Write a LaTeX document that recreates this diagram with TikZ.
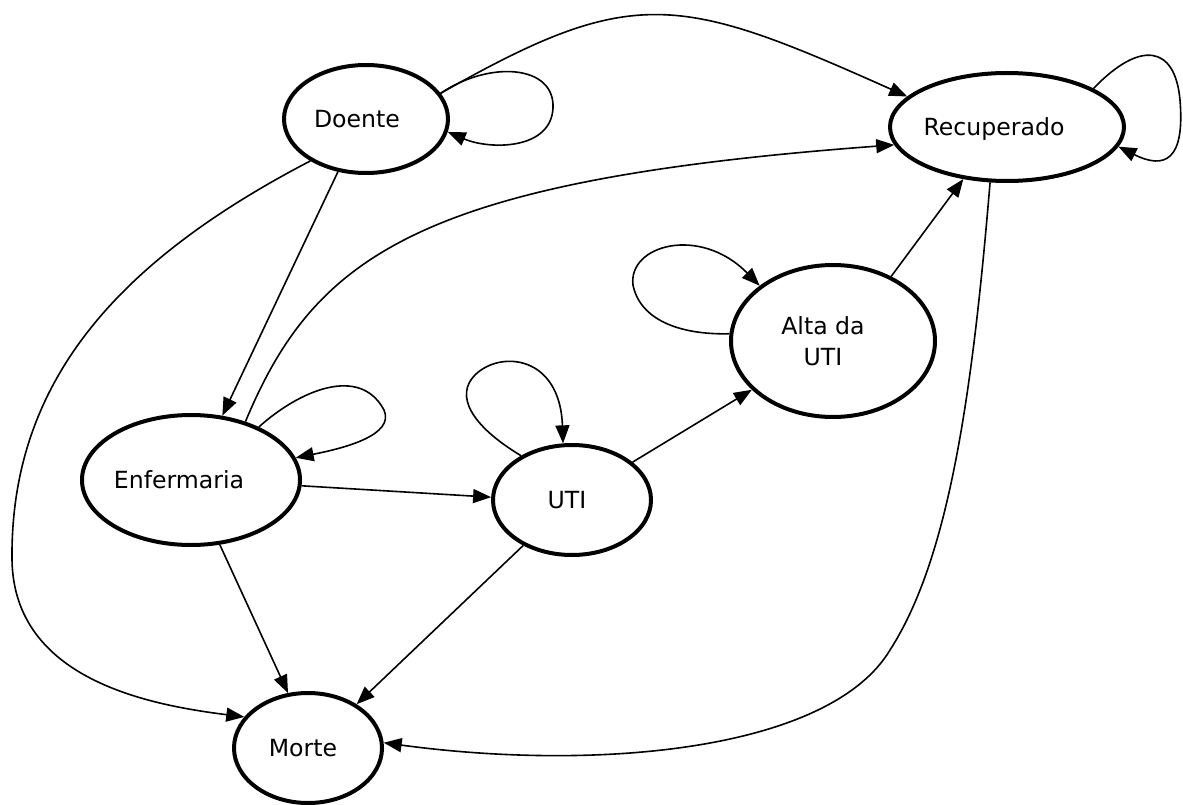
\documentclass[tikz,border=0pt]{standalone}
\usepackage{fontspec}
\setmainfont{DejaVu Sans}
\usetikzlibrary{arrows.meta,shapes.geometric}
\begin{document}
\begin{tikzpicture}[x=1pt,y=-1pt,
  state/.style={ellipse, draw, line width=4pt, inner sep=0pt},
  lbl/.style={font=\fontsize{23.6}{31}\selectfont, inner sep=0pt, align=center},
  one/.style={text height=17.2pt, text depth=0pt},
  edge/.style={line width=1.6pt, -{Triangle[length=18pt,width=14pt]}}]
\useasboundingbox (0,0) rectangle (1183,805);
\fill[white] (0,0) rectangle (1183,805);

\node[state, minimum width=164pt, minimum height=108pt,
  label={[lbl,one,xshift=-9pt]center:Doente}] (doe) at (366,119) {};
\node[state, minimum width=234pt, minimum height=108pt,
  label={[lbl,one,xshift=-13pt]center:Recuperado}] (rec) at (1007,127) {};
\node[state, minimum width=218pt, minimum height=130pt,
  label={[lbl,one,xshift=-12pt]center:Enfermaria}] (enf) at (191,480) {};
\node[state, minimum width=204pt, minimum height=152pt,
  label={[lbl,xshift=-10pt]center:Alta da\\UTI}] (alta) at (833,341) {};
\node[state, minimum width=158pt, minimum height=110pt,
  label={[lbl,one,xshift=-5pt]center:UTI}] (uti) at (572,500) {};
\node[state, minimum width=148pt, minimum height=110pt,
  label={[lbl,one,xshift=-5pt]center:Morte}] (mor) at (308,748) {};

% Doente
\draw[edge] (doe.19) .. controls (633,-16) and (678,-6) .. (rec.163);
\draw[edge] (doe.19) .. controls (490,60) and (555,65) .. (553,108)
  .. controls (551,150) and (490,150) .. (doe.-9);
\draw[edge] (doe.242) -- (enf.64);
\draw[edge] (doe.217) .. controls (120,260) and (10,380) .. (12,560)
  .. controls (14,680) and (150,705) .. (mor.154);

% Enfermaria
\draw[edge] (enf.47) .. controls (315,255) and (420,180) .. (rec.189);
\draw[edge] (enf.38) .. controls (300,390) and (360,365) .. (384,410)
  .. controls (395,435) and (345,448) .. (enf.12);
\draw[edge] (enf.-3.6) -- (uti.178.6);
\draw[edge] (enf.-66.6) -- (mor.110.6);

% UTI
\draw[edge] (uti.139) .. controls (470,425) and (455,395) .. (475,375)
  .. controls (500,350) and (560,355) .. (uti.99);
\draw[edge] (uti.32.4) -- (alta.211.2);
\draw[edge] (uti.223.2) -- (mor.42.6);

% Alta da UTI
\draw[edge] (alta.176) .. controls (680,335) and (640,320) .. (633,285)
  .. controls (628,245) and (700,225) .. (alta.143);
\draw[edge] (alta.48.7) -- (rec.230.2);

% Recuperado
\draw[edge] (rec.24) .. controls (1140,40) and (1175,45) .. (1180,100)
  .. controls (1185,160) and (1165,170) .. (rec.-10);
\draw[edge] (rec.253) .. controls (972,400) and (948,560) .. (890,650)
  .. controls (830,750) and (600,772) .. (mor.4);
\end{tikzpicture}
\end{document}
